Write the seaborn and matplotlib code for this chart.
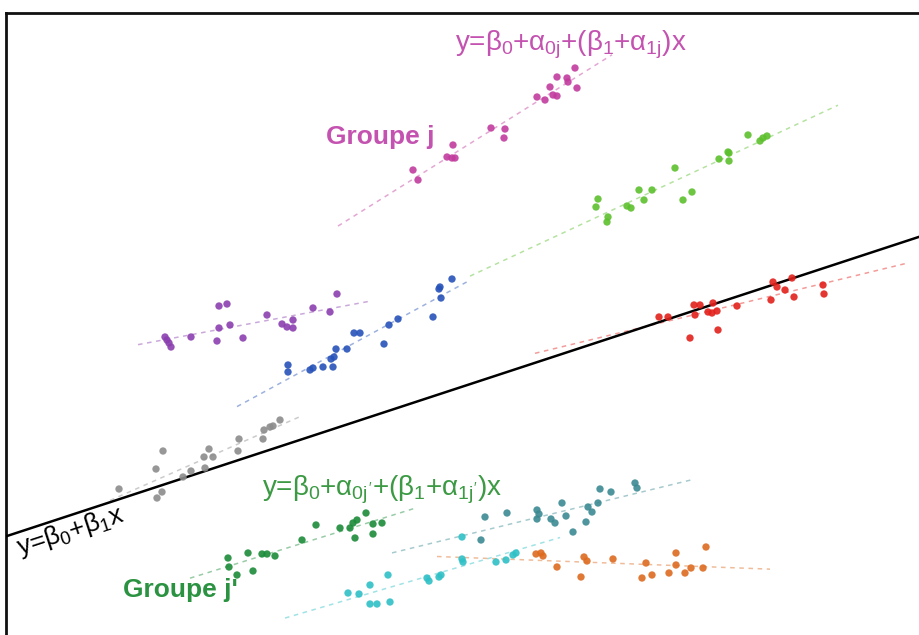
import numpy as np
import pandas as pd
import matplotlib
matplotlib.use("Agg")
import matplotlib.pyplot as plt
import seaborn as sns

# points, x to the right, y upwards
magenta_x = [575, 557, 567, 568, 550, 577, 553, 557, 537, 545, 491, 505, 504, 453, 447, 452, 455, 413, 418]
magenta_y = [567, 558, 557, 553, 548, 547, 540, 539, 538, 535, 507, 506, 497, 490, 478, 477, 477, 465, 455]

lime_x = [598, 596, 608, 607, 627, 631, 639, 644, 652, 675, 683, 692, 719, 728, 729, 729, 748, 760, 763, 767]
lime_y = [436, 428, 418, 413, 429, 427, 445, 435, 445, 467, 435, 443, 476, 483, 482, 474, 500, 494, 497, 499]

red_x = [659, 668, 690, 695, 694, 700, 713, 708, 712, 717, 718, 737, 771, 773, 777, 785, 792, 794, 823, 824]
red_y = [318, 318, 297, 320, 330, 330, 332, 323, 322, 324, 305, 329, 335, 353, 348, 345, 357, 338, 350, 341]

purple_x = [165, 167, 169, 171, 191, 217, 219, 219, 227, 230, 243, 267, 282, 287, 293, 293, 313, 330, 337]
purple_y = [298, 295, 292, 288, 298, 294, 307, 329, 331, 310, 297, 320, 311, 308, 307, 315, 327, 323, 341]

blue_x = [288, 288, 310, 313, 323, 333, 331, 334, 336, 347, 354, 360, 384, 389, 398, 433, 440, 441, 439, 452]
blue_y = [270, 263, 265, 267, 268, 268, 276, 278, 286, 286, 302, 302, 291, 310, 316, 318, 348, 337, 346, 356]

gray_x = [119, 157, 162, 156, 163, 183, 191, 205, 204, 209, 213, 238, 239, 263, 264, 270, 273, 280]
gray_y = [146, 137, 143, 166, 184, 158, 164, 167, 178, 186, 178, 184, 196, 196, 205, 208, 209, 215]

green_x = [228, 229, 237, 248, 253, 262, 267, 275, 302, 316, 340, 350, 353, 357, 355, 366, 373, 373, 382]
green_y = [77, 68, 60, 82, 64, 81, 81, 79, 95, 110, 107, 107, 112, 115, 97, 122, 111, 101, 112]

teal_x = [485, 507, 481, 537, 539, 537, 551, 555, 562, 566, 573, 586, 588, 592, 598, 600, 611, 635, 637]
teal_y = [118, 122, 95, 125, 121, 116, 116, 112, 132, 119, 103, 113, 128, 123, 132, 146, 143, 152, 147]

cyan_x = [348, 359, 370, 370, 377, 388, 390, 427, 429, 439, 441, 462, 462, 463, 496, 506, 513, 516]
cyan_y = [42, 41, 50, 31, 31, 60, 33, 57, 54, 58, 60, 98, 76, 73, 73, 75, 80, 82]

orange_x = [536, 541, 543, 557, 581, 584, 587, 613, 642, 652, 646, 669, 676, 676, 685, 691, 703, 706]
orange_y = [81, 82, 79, 68, 58, 78, 74, 76, 57, 60, 72, 62, 82, 70, 62, 67, 67, 88]

groups = ["magenta", "lime", "red", "purple", "blue", "gray", "green", "teal", "cyan", "orange"]
# x span covered by each group's dashed fit line
fit_start = [338, 470, 535, 138, 237, 110, 190, 392, 285, 437]
fit_end = [612, 838, 905, 368, 470, 300, 415, 692, 560, 770]

# overall line y = beta0 + beta1 x
beta0 = 96.7
beta1 = 0.328

colors = {
    "magenta": "#c23c9e", "lime": "#5cc02c", "red": "#e3211c", "purple": "#8b3fb0",
    "blue": "#2652b8", "gray": "#8c8c8c", "green": "#1c8c3a", "teal": "#3b8a92",
    "cyan": "#2ec0c6", "orange": "#dd6b1f",
}

xs_all = [magenta_x, lime_x, red_x, purple_x, blue_x, gray_x, green_x, teal_x, cyan_x, orange_x]
ys_all = [magenta_y, lime_y, red_y, purple_y, blue_y, gray_y, green_y, teal_y, cyan_y, orange_y]

df = pd.concat([pd.DataFrame({"x": gx, "y": gy, "group": g})
                for g, gx, gy in zip(groups, xs_all, ys_all)], ignore_index=True)

sns.set_theme(style="white")
plt.rcParams["font.family"] = ["Liberation Sans", "DejaVu Sans"]
plt.rcParams["mathtext.fontset"] = "custom"
plt.rcParams["mathtext.rm"] = "Liberation Sans"
plt.rcParams["mathtext.it"] = "Liberation Sans"

fig = plt.figure(figsize=(9.2, 6.35), dpi=100)
ax = fig.add_axes([6 / 920, 0, 914 / 920, 622 / 635])

# dashed per-group fits
for g, gx, gy, a, b in zip(groups, xs_all, ys_all, fit_start, fit_end):
    slope, icpt = np.polyfit(gx, gy, 1)
    lx = np.array([a, b])
    ax.plot(lx, icpt + slope * lx, ls=(0, (3, 3)), lw=1.1, color=colors[g], alpha=0.45)

ax.axline((0, beta0), slope=beta1, color="black", lw=1.8, zorder=3)

sns.scatterplot(data=df, x="x", y="y", hue="group", palette=colors, s=28,
                linewidth=0, alpha=0.9, legend=False, ax=ax, zorder=4)

ax.text(455, 590, r"y=$\beta_0$+$\alpha_{0j}$+($\beta_1$+$\alpha_{1j}$)x",
        color="#c452b0", fontsize=20, va="center", ha="left")
ax.text(326, 498, "Groupe j", color="#c452b0", fontsize=19, fontweight="bold",
        va="center", ha="left")
ax.text(13, 100, r"y=$\beta_0$+$\beta_1$x", color="black", fontsize=19,
        rotation=np.degrees(np.arctan(beta1)), rotation_mode="anchor", va="top", ha="left")
ax.text(262, 145, r"y=$\beta_0$+$\alpha_{0j'}$+($\beta_1$+$\alpha_{1j'}$)x",
        color="#3c9a44", fontsize=20, va="center", ha="left")
ax.text(123, 45, "Groupe j'", color="#2a9240", fontsize=19, fontweight="bold",
        va="center", ha="left")

ax.set_xlim(6, 920)
ax.set_ylim(0, 622)
ax.set_xticks([])
ax.set_yticks([])
ax.set_xlabel("")
ax.set_ylabel("")
for side in ["right", "bottom"]:
    ax.spines[side].set_visible(False)
for side in ["top", "left"]:
    ax.spines[side].set_color("#111111")
    ax.spines[side].set_linewidth(2)

fig.savefig("out.png", dpi=100)
